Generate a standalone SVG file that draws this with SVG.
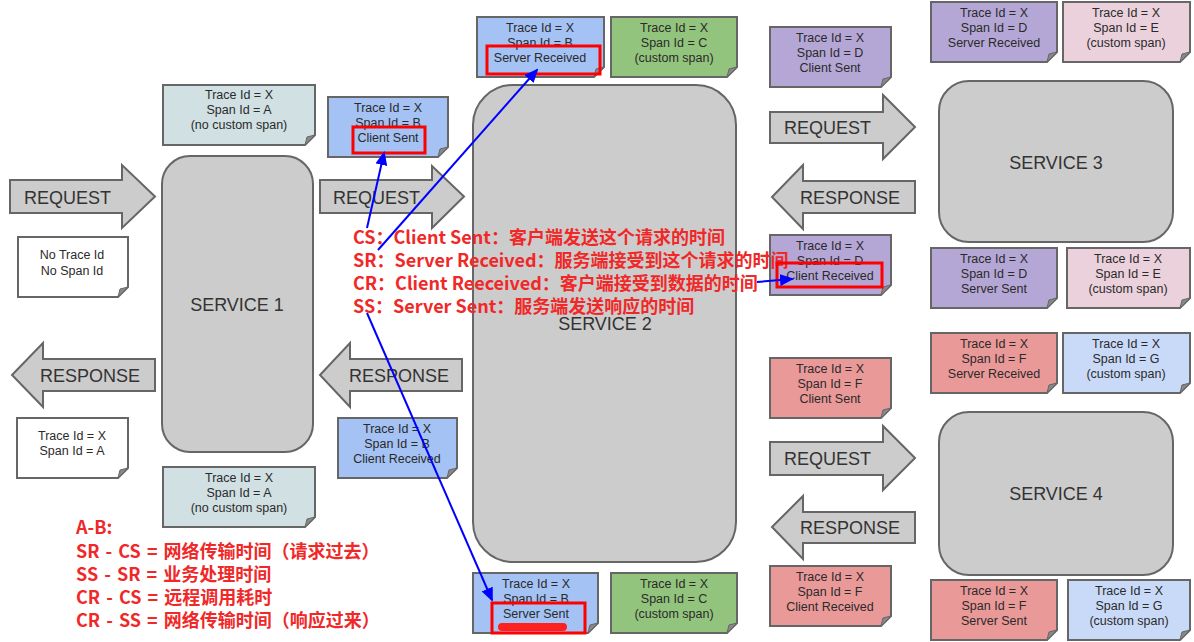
<svg xmlns="http://www.w3.org/2000/svg" width="1194" height="642" viewBox="0 0 1194 642">
<style>
.arrow{fill:#cccccc;stroke:#666666;stroke-width:2;stroke-linejoin:miter}
.svc{fill:#cccccc;stroke:#666666;stroke-width:2}
.lbl{font-family:"Liberation Sans",Arial,sans-serif;font-size:18px;fill:#333333}
.note{stroke:#666666;stroke-width:2;stroke-linejoin:miter}
.fold{fill:#888888;stroke:#666666;stroke-width:1}
.nt{font-family:"Liberation Sans",Arial,sans-serif;font-size:12.5px;fill:#2a2a2a;text-anchor:middle}
.red{font-family:"Noto Sans CJK SC","Microsoft YaHei",sans-serif;font-size:18px;font-weight:bold;fill:#f02828}
.fm{word-spacing:2px}
.box{fill:none;stroke:#ff0000;stroke-width:3}
.blue{fill:none;stroke:#0000ff;stroke-width:2}
.a{fill:#d0e0e3}.b{fill:#a4c2f4}.c{fill:#93c47d}.d{fill:#b4a7d6}.e{fill:#ead1dc}.f{fill:#ea9999}.g{fill:#c9daf8}.w{fill:#ffffff}
</style>
<defs>
<marker id="ah" markerUnits="userSpaceOnUse" markerWidth="14" markerHeight="12" refX="12" refY="6" orient="auto">
<path d="M0,0 L14,6 L0,12 Z" fill="#0000ff"/>
</marker>
</defs>
<rect width="1194" height="642" fill="#ffffff"/>

<g id="arrows">
<g id="req1"><path class="arrow" d="M10,180 H122 V165 L155,196.5 L122,228 V213 H10 Z"/><text class="lbl" x="24" y="203.5">REQUEST</text></g>
<g id="req2"><path class="arrow" d="M320,180 H432 V166 L464,196.5 L432,228 V213 H320 Z"/><text class="lbl" x="333" y="203.5">REQUEST</text></g>
<g id="resp1"><path class="arrow" d="M12,375 L43,343 V359 H155 V391 H43 V407 Z"/><text class="lbl" x="40" y="381.5">RESPONSE</text></g>
<g id="resp2"><path class="arrow" d="M320,375 L350,343 V359 H462 V391 H350 V407 Z"/><text class="lbl" x="349" y="381.5">RESPONSE</text></g>
<g id="req3"><path class="arrow" d="M770,112 H883 V95 L915,127 L883,159 V143 H770 Z"/><text class="lbl" x="784" y="133.5">REQUEST</text></g>
<g id="resp3"><path class="arrow" d="M772,197 L803,165 V181 H915 V213 H803 V229 Z"/><text class="lbl" x="800" y="203.5">RESPONSE</text></g>
<g id="req4"><path class="arrow" d="M770,442 H883 V426 L915,458 L883,490 V475 H770 Z"/><text class="lbl" x="784" y="464.5">REQUEST</text></g>
<g id="resp4"><path class="arrow" d="M772,527 L803,496 V512 H915 V543 H803 V559 Z"/><text class="lbl" x="800" y="534">RESPONSE</text></g>
</g>

<g id="service1"><rect class="svc" x="162" y="156" width="151" height="296" rx="28"/><text class="lbl" x="237" y="311" text-anchor="middle">SERVICE 1</text></g>
<g id="service2"><rect class="svc" x="473" y="85" width="263" height="477" rx="40"/><text class="lbl" x="605" y="330" text-anchor="middle">SERVICE 2</text></g>
<g id="service3"><rect class="svc" x="939" y="81" width="234" height="161" rx="30"/><text class="lbl" x="1056" y="169" text-anchor="middle">SERVICE 3</text></g>
<g id="service4"><rect class="svc" x="939" y="412" width="234" height="163" rx="30"/><text class="lbl" x="1056" y="500" text-anchor="middle">SERVICE 4</text></g>

<g id="noteA1"><path class="note a" d="M163,85 H315 V135 L305,145 H163 Z"/><path class="fold" d="M315,135 L305,145 L307,137 Z"/>
<text class="nt" x="239" y="99">Trace Id = X</text><text class="nt" x="239" y="114">Span Id = A</text><text class="nt" x="239" y="129">(no custom span)</text></g>
<g id="noteB_cs"><path class="note b" d="M328,97 H448 V147 L438,157 H328 Z"/><path class="fold" d="M448,147 L438,157 L440,149 Z"/>
<text class="nt" x="388" y="112">Trace Id = X</text><text class="nt" x="388" y="127">Span Id = B</text><text class="nt" x="388" y="142">Client Sent</text></g>
<g id="noteNo"><path class="note w" d="M18,237 H128 V287 L118,297 H18 Z"/><path class="fold" d="M128,287 L118,297 L120,289 Z"/>
<text class="nt" x="72" y="259">No Trace Id</text><text class="nt" x="72" y="275">No Span Id</text></g>
<g id="noteXA"><path class="note w" d="M17,418 H128 V468 L118,478 H17 Z"/><path class="fold" d="M128,468 L118,478 L120,470 Z"/>
<text class="nt" x="72" y="440">Trace Id = X</text><text class="nt" x="72" y="455">Span Id = A</text></g>
<g id="noteA2"><path class="note a" d="M163,467 H315 V517 L305,527 H163 Z"/><path class="fold" d="M315,517 L305,527 L307,519 Z"/>
<text class="nt" x="239" y="482">Trace Id = X</text><text class="nt" x="239" y="497">Span Id = A</text><text class="nt" x="239" y="512">(no custom span)</text></g>
<g id="noteB_cr"><path class="note b" d="M338,418 H457 V468 L447,478 H338 Z"/><path class="fold" d="M457,468 L447,478 L449,470 Z"/>
<text class="nt" x="397" y="433">Trace Id = X</text><text class="nt" x="397" y="448">Span Id = B</text><text class="nt" x="397" y="463">Client Received</text></g>
<g id="noteB_sr"><path class="note b" d="M477,17 H604 V67 L594,77 H477 Z"/><path class="fold" d="M604,67 L594,77 L596,69 Z"/>
<text class="nt" x="540" y="32">Trace Id = X</text><text class="nt" x="540" y="47">Span Id = B</text><text class="nt" x="540" y="62">Server Received</text></g>
<g id="noteC1"><path class="note c" d="M611,17 H737 V67 L727,77 H611 Z"/><path class="fold" d="M737,67 L727,77 L729,69 Z"/>
<text class="nt" x="674" y="32">Trace Id = X</text><text class="nt" x="674" y="47">Span Id = C</text><text class="nt" x="674" y="62">(custom span)</text></g>
<g id="noteB_ss"><path class="note b" d="M473,573 H598 V623 L588,633 H473 Z"/><path class="fold" d="M598,623 L588,633 L590,625 Z"/>
<text class="nt" x="536" y="588">Trace Id = X</text><text class="nt" x="536" y="603">Span Id = B</text><text class="nt" x="536" y="618">Server Sent</text></g>
<g id="noteC2"><path class="note c" d="M611,573 H737 V623 L727,633 H611 Z"/><path class="fold" d="M737,623 L727,633 L729,625 Z"/>
<text class="nt" x="674" y="588">Trace Id = X</text><text class="nt" x="674" y="603">Span Id = C</text><text class="nt" x="674" y="618">(custom span)</text></g>
<g id="noteD_cs"><path class="note d" d="M770,27 H891 V77 L881,87 H770 Z"/><path class="fold" d="M891,77 L881,87 L883,79 Z"/>
<text class="nt" x="830" y="42">Trace Id = X</text><text class="nt" x="830" y="57">Span Id = D</text><text class="nt" x="830" y="72">Client Sent</text></g>
<g id="noteD_sr"><path class="note d" d="M931,2 H1057 V52 L1047,62 H931 Z"/><path class="fold" d="M1057,52 L1047,62 L1049,54 Z"/>
<text class="nt" x="994" y="17">Trace Id = X</text><text class="nt" x="994" y="32">Span Id = D</text><text class="nt" x="994" y="47">Server Received</text></g>
<g id="noteE1"><path class="note e" d="M1063,2 H1190 V52 L1180,62 H1063 Z"/><path class="fold" d="M1190,52 L1180,62 L1182,54 Z"/>
<text class="nt" x="1126" y="17">Trace Id = X</text><text class="nt" x="1126" y="32">Span Id = E</text><text class="nt" x="1126" y="47">(custom span)</text></g>
<g id="noteD_cr"><path class="note d" d="M770,235 H891 V285 L881,295 H770 Z"/><path class="fold" d="M891,285 L881,295 L883,287 Z"/>
<text class="nt" x="830" y="250">Trace Id = X</text><text class="nt" x="830" y="265">Span Id = D</text><text class="nt" x="830" y="280">Client Received</text></g>
<g id="noteD_ss"><path class="note d" d="M931,248 H1057 V298 L1047,308 H931 Z"/><path class="fold" d="M1057,298 L1047,308 L1049,300 Z"/>
<text class="nt" x="994" y="263">Trace Id = X</text><text class="nt" x="994" y="278">Span Id = D</text><text class="nt" x="994" y="293">Server Sent</text></g>
<g id="noteE2"><path class="note e" d="M1067,248 H1190 V298 L1180,308 H1067 Z"/><path class="fold" d="M1190,298 L1180,308 L1182,300 Z"/>
<text class="nt" x="1128" y="263">Trace Id = X</text><text class="nt" x="1128" y="278">Span Id = E</text><text class="nt" x="1128" y="293">(custom span)</text></g>
<g id="noteF_sr"><path class="note f" d="M931,333 H1057 V383 L1047,393 H931 Z"/><path class="fold" d="M1057,383 L1047,393 L1049,385 Z"/>
<text class="nt" x="994" y="348">Trace Id = X</text><text class="nt" x="994" y="363">Span Id = F</text><text class="nt" x="994" y="378">Server Received</text></g>
<g id="noteG1"><path class="note g" d="M1063,333 H1190 V383 L1180,393 H1063 Z"/><path class="fold" d="M1190,383 L1180,393 L1182,385 Z"/>
<text class="nt" x="1126" y="348">Trace Id = X</text><text class="nt" x="1126" y="363">Span Id = G</text><text class="nt" x="1126" y="378">(custom span)</text></g>
<g id="noteF_cs"><path class="note f" d="M770,358 H891 V408 L881,418 H770 Z"/><path class="fold" d="M891,408 L881,418 L883,410 Z"/>
<text class="nt" x="830" y="373">Trace Id = X</text><text class="nt" x="830" y="388">Span Id = F</text><text class="nt" x="830" y="403">Client Sent</text></g>
<g id="noteF_cr"><path class="note f" d="M770,566 H891 V616 L881,626 H770 Z"/><path class="fold" d="M891,616 L881,626 L883,618 Z"/>
<text class="nt" x="830" y="581">Trace Id = X</text><text class="nt" x="830" y="596">Span Id = F</text><text class="nt" x="830" y="611">Client Received</text></g>
<g id="noteF_ss"><path class="note f" d="M931,580 H1057 V630 L1047,640 H931 Z"/><path class="fold" d="M1057,630 L1047,640 L1049,632 Z"/>
<text class="nt" x="994" y="595">Trace Id = X</text><text class="nt" x="994" y="610">Span Id = F</text><text class="nt" x="994" y="625">Server Sent</text></g>
<g id="noteG2"><path class="note g" d="M1068,580 H1190 V630 L1180,640 H1068 Z"/><path class="fold" d="M1190,630 L1180,640 L1182,632 Z"/>
<text class="nt" x="1129" y="595">Trace Id = X</text><text class="nt" x="1129" y="610">Span Id = G</text><text class="nt" x="1129" y="625">(custom span)</text></g>

<g id="legend">
<text class="red" x="353" y="244">CS：Client Sent：客户端发送这个请求的时间</text>
<text class="red" x="353" y="267">SR：Server Received：服务端接受到这个请求的时间</text>
<text class="red" x="353" y="290">CR：Client Reeceived：客户端接受到数据的时间</text>
<text class="red" x="353" y="313">SS：Server Sent：服务端发送响应的时间</text>
</g>
<g id="formulas">
<text class="red" x="76" y="534">A-B:</text>
<text class="red fm" x="76" y="557.5">SR - CS = 网络传输时间（请求过去）</text>
<text class="red fm" x="76" y="580.5">SS - SR = 业务处理时间</text>
<text class="red fm" x="76" y="604">CR - CS = 远程调用耗时</text>
<text class="red fm" x="76" y="627">CR - SS = 网络传输时间（响应过来）</text>
</g>

<g id="highlights">
<rect class="box" x="353" y="127" width="72" height="26"/>
<rect class="box" x="487" y="46" width="113" height="28"/>
<rect class="box" x="777" y="263" width="105" height="24"/>
<rect class="box" x="492" y="603" width="93" height="30"/>
<rect x="498" y="623" width="69" height="8" rx="4" fill="#ff2020"/>
</g>

<g id="connectors">
<line class="blue" x1="367" y1="228" x2="384" y2="153" marker-end="url(#ah)"/>
<line class="blue" x1="378" y1="250" x2="537" y2="70" marker-end="url(#ah)"/>
<line class="blue" x1="757" y1="282" x2="792" y2="279" marker-end="url(#ah)"/>
<line class="blue" x1="367" y1="313" x2="492" y2="600" marker-end="url(#ah)"/>
</g>
</svg>
